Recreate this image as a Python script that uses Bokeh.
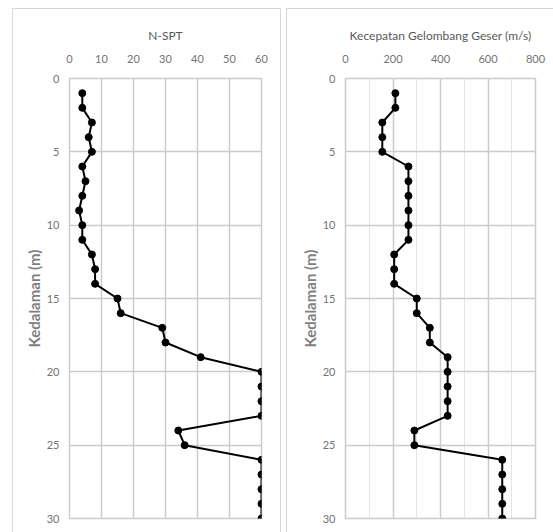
from bokeh.plotting import figure
from bokeh.layouts import row
from bokeh.models import Range1d, LinearAxis, FixedTicker, Grid
from bokeh.embed import file_html
from bokeh.resources import INLINE

depth = list(range(1, 31))
nspt = [4, 4, 7, 6, 7, 4, 5, 4, 3, 4, 4, 7, 8, 8, 15, 16, 29, 30, 41, 60,
        60, 60, 60, 34, 36, 60, 60, 60, 60, 60]
vs = [210, 210, 155, 155, 155, 265, 265, 265, 265, 265, 265, 205, 205, 205, 300,
      300, 355, 355, 430, 430, 430, 430, 430, 290, 290, 660, 660, 660, 660, 660]

nspt_ticks = [0, 10, 20, 30, 40, 50, 60]
vs_ticks = [0, 200, 400, 600, 800]
depth_ticks = [0, 5, 10, 15, 20, 25, 30]

FONT = "Lato"
GRID = "#cccccc"
FRAME = "#d9d9d9"
TXT = "#737373"


def make(xvals, xmax, xticks, title, width, left_border, right_border, margin, styles):
    p = figure(width=width, height=524, output_backend="svg", toolbar_location=None,
               x_range=Range1d(0, xmax), y_range=Range1d(30, 0),
               x_axis_location=None, y_axis_location=None,
               min_border_left=left_border, min_border_right=right_border,
               min_border_top=69, min_border_bottom=15,
               margin=margin, styles=styles)
    p.outline_line_color = GRID
    p.outline_line_width = 1.5
    p.background_fill_color = "white"
    p.border_fill_color = "white"

    xa = LinearAxis(axis_label=title, ticker=FixedTicker(ticks=xticks))
    ya = LinearAxis(axis_label="Kedalaman (m)", ticker=FixedTicker(ticks=depth_ticks))
    for ax in (xa, ya):
        ax.axis_line_color = None
        ax.major_tick_line_color = None
        ax.minor_tick_line_color = None
        ax.major_tick_out = 0
        ax.major_tick_in = 0
        ax.minor_tick_out = 0
        ax.minor_tick_in = 0
        ax.major_label_text_font = FONT
        ax.major_label_text_font_size = "11px"
        ax.major_label_text_color = TXT
        ax.axis_label_text_font = FONT
        ax.axis_label_text_color = "#595959"
    xa.major_label_standoff = 16
    xa.axis_label_standoff = 9
    xa.axis_label_text_font_size = "12px"
    xa.axis_label_text_font_style = "normal"
    ya.major_label_standoff = 10
    ya.axis_label_standoff = 1
    ya.axis_label_text_font_size = "15px"
    ya.axis_label_text_font_style = "bold"
    ya.axis_label_text_color = "#7f7f7f"
    p.add_layout(xa, "above")
    p.add_layout(ya, "left")

    p.add_layout(Grid(dimension=0, ticker=FixedTicker(ticks=xticks),
                      grid_line_color=GRID, grid_line_width=1.5))
    p.add_layout(Grid(dimension=1, ticker=FixedTicker(ticks=depth_ticks),
                      grid_line_color=GRID, grid_line_width=1.5))

    p.line(xvals, depth, line_color="black", line_width=2)
    p.scatter(xvals, depth, size=7, fill_color="black", line_color="black")
    return p


p1 = make(nspt, 60, nspt_ticks, "N-SPT", 269, 56, 21, (8, 0, 0, 12),
          {"border-top": "1px solid " + FRAME, "border-left": "1px solid " + FRAME,
           "border-right": "1px solid " + FRAME})
p2 = make(vs, 800, vs_ticks, "Kecepatan Gelombang Geser (m/s)", 267, 58, 19, (8, 0, 0, 5),
          {"border-top": "1px solid " + FRAME, "border-left": "1px solid " + FRAME})

layout = row(p1, p2)
open("out.html", "w").write(file_html(layout, INLINE))
